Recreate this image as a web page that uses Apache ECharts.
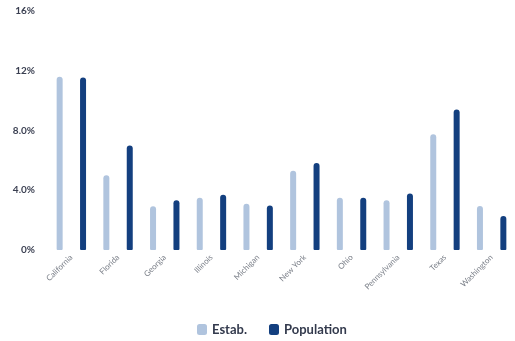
<!DOCTYPE html>
<html><head><meta charset="utf-8">
<script src="https://cdn.jsdelivr.net/npm/echarts@6/dist/echarts.min.js"></script>
<style>html,body{margin:0;padding:0;background:#fff}#c{width:515px;height:341px}</style>
</head><body><div id="c"></div>
<script>
const categories = ["California","Florida","Georgia","Illinois","Michigan","New York","Ohio","Pennsylvania","Texas","Washington"];
const estab = [11.6, 5.0, 2.93, 3.5, 3.1, 5.3, 3.5, 3.33, 7.75, 2.95];
const population = [11.55, 7.0, 3.33, 3.7, 2.98, 5.82, 3.5, 3.78, 9.4, 2.27];
const yTickLabels = {0:"0%", 4:"4.0%", 8:"8.0%", 12:"12%", 16:"16%"};
const font = "Lato";
const chart = echarts.init(document.getElementById('c'), null, {renderer:'canvas'});
chart.setOption({
  animation:false,
  textStyle:{fontFamily:font},
  grid:{left:48,right:-2,top:11,bottom:91,containLabel:false},
  legend:{
    top:318,left:192,itemWidth:10,itemHeight:11,itemGap:22,
    icon:'roundRect',
    textStyle:{fontFamily:font,fontSize:13,fontWeight:'bold',color:'#333a4d'},
    data:['Estab.','Population']
  },
  xAxis:{
    type:'category',data:categories,
    axisLine:{show:false},axisTick:{show:false},
    axisLabel:{rotate:45,fontSize:8,color:'#7a7f88',margin:6,interval:0,fontFamily:font}
  },
  yAxis:{
    type:'value',min:0,max:16,interval:4,
    splitLine:{show:false},axisLine:{show:false},axisTick:{show:false},
    axisLabel:{formatter:v=>yTickLabels[v],fontSize:10,fontWeight:'bold',color:'#3a3f51',margin:13,fontFamily:font}
  },
  series:[
    {name:'Estab.',type:'bar',data:estab,barWidth:6,barGap:'290%',
     itemStyle:{color:'#b0c4de',borderRadius:[3,3,1,1]}},
    {name:'Population',type:'bar',data:population,barWidth:6,
     itemStyle:{color:'#133f7f',borderRadius:[3,3,1,1]}}
  ]
});
</script></body></html>
